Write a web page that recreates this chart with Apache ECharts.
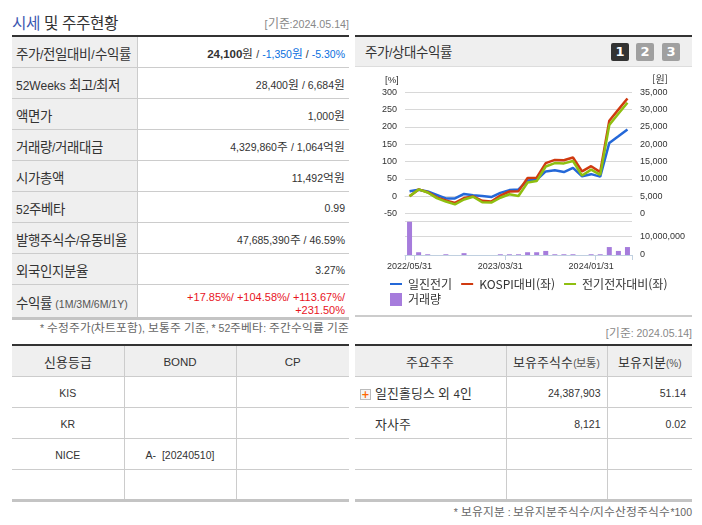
<!DOCTYPE html>
<html lang="ko"><head><meta charset="utf-8">
<script src="https://cdn.jsdelivr.net/npm/echarts@6/dist/echarts.min.js"></script>
<style>
@font-face{font-family:KR;src:local("Noto Sans CJK KR");unicode-range:U+AC00-D7A3,U+3131-318E;size-adjust:112%}
html,body{margin:0;padding:0;background:#fff;width:702px;height:525px;overflow:hidden}
body{font-family:KR,"Liberation Sans","Noto Sans CJK KR",sans-serif;font-size:10.5px;color:#333}
.a{position:absolute;white-space:nowrap}
table{position:absolute;border-collapse:collapse;table-layout:fixed;border-top:2px solid #333;border-bottom:3px solid #c4c4c4}
td,th{border-top:1px solid #ccc;padding:2px 0 0;font-weight:normal;height:30px;box-sizing:border-box;overflow:hidden;white-space:nowrap}
tr:first-child td,tr:first-child th{border-top:0}
.l{background:#efefef;border-right:1px solid #ccc;text-align:left;padding-left:4px;font-size:12px}
.c{text-align:center;border-right:1px solid #ccc}
.c:last-child{border-right:0}
.r{text-align:right;padding-right:4px}
.c.r{text-align:right;padding-right:6px}
.h{background:#efefef;font-size:11.5px}
.b{color:#0a6fe0}.u{color:#e8141e}
.btn{position:absolute;top:43px;width:18px;height:18px;border-radius:2px;background:#a0a0a0;color:#fff;font:bold 13px/18px "DejaVu Sans",sans-serif;text-align:center}
#chart{position:absolute;left:0;top:0;width:702px;height:525px}
</style></head><body>
<div class="a" style="left:12px;top:11px;font-size:14px"><span style="color:#3a56b0">시세</span> 및 주주현황</div>
<div class="a" style="right:353px;top:14px;color:#888;font-size:10.7px">[기준:2024.05.14]</div>
<table style="left:12px;top:35px;width:337px">
<colgroup><col style="width:125px"><col></colgroup>
<tr><td class="l" style="height:31px">주가/전일대비/수익률</td><td class="r"><b style="font-size:11.5px">24,100</b>원 / <span class="b">-1,350원</span> / <span class="b">-5.30%</span></td></tr>
<tr><td class="l" style="height:31px">52Weeks 최고/최저</td><td class="r">28,400원 / 6,684원</td></tr>
<tr><td class="l" style="height:31px">액면가</td><td class="r">1,000원</td></tr>
<tr><td class="l" style="height:31px">거래량/거래대금</td><td class="r">4,329,860주 / 1,064억원</td></tr>
<tr><td class="l" style="height:31px">시가총액</td><td class="r">11,492억원</td></tr>
<tr><td class="l" style="height:31px">52주베타</td><td class="r">0.99</td></tr>
<tr><td class="l" style="height:31px">발행주식수/유동비율</td><td class="r">47,685,390주 / 46.59%</td></tr>
<tr><td class="l" style="height:31px">외국인지분율</td><td class="r">3.27%</td></tr>
<tr><td class="l" style="height:31px">수익률 <span style="font-size:10.5px;color:#555">(1M/3M/6M/1Y)</span></td><td class="r u" style="white-space:normal;line-height:13px;font-size:11px;padding-top:6px">+17.85%/ +104.58%/ +113.67%/<br>+231.50%</td></tr>
</table>
<div class="a" style="right:353px;top:318px;color:#666">* 수정주가(차트포함), 보통주 기준, * 52주베타: 주간수익률 기준</div>
<table style="left:12px;top:344px;width:337px">
<colgroup><col style="width:112px"><col style="width:112px"><col></colgroup>
<tr><th class="c h" style="height:31px">신용등급</th><th class="c h" style="height:31px">BOND</th><th class="c h" style="height:31px">CP</th></tr>
<tr><td class="c" style="height:31px">KIS</td><td class="c"></td><td class="c"></td></tr>
<tr><td class="c" style="height:31px">KR</td><td class="c"></td><td class="c"></td></tr>
<tr><td class="c" style="height:31px">NICE</td><td class="c">A-&nbsp;&nbsp;[20240510]</td><td class="c"></td></tr>
<tr><td class="c" style="height:31px"></td><td class="c"></td><td class="c"></td></tr>
</table>

<div class="a" style="left:355px;top:35px;width:337px;height:32px;box-sizing:border-box;background:#efefef;border-top:2px solid #333;border-bottom:1px solid #ddd"></div>
<div class="a" style="left:365px;top:41px;font-size:12px">주가/상대수익률</div>
<div class="btn" style="left:611px;background:#333">1</div>
<div class="btn" style="left:636px">2</div>
<div class="btn" style="left:662px">3</div>
<div class="a" style="left:355px;top:315px;width:337px;height:2px;background:#ccc"></div>
<div class="a" style="right:10px;top:323px;color:#888">[기준: 2024.05.14]</div>
<table style="left:355px;top:344px;width:337px">
<colgroup><col style="width:151px"><col style="width:101px"><col></colgroup>
<tr><th class="c h" style="height:31px">주요주주</th><th class="c h">보유주식수<span style="font-size:10px;color:#555">(보통)</span></th><th class="c h">보유지분<span style="font-size:10px;color:#555">(%)</span></th></tr>
<tr><td class="c" style="height:31px;text-align:left;font-size:11.5px"><span style="display:inline-block;width:9px;height:9px;margin:0 4px 0 5px;border:1px solid #bbb;background:#f4f4f4;color:#f60;font:bold 10px/9px 'DejaVu Sans';text-align:center;vertical-align:middle">+</span>일진홀딩스 외 4인</td><td class="c r">24,387,903</td><td class="c r">51.14</td></tr>
<tr><td class="c" style="height:31px;text-align:left;padding-left:20px;font-size:11.5px">자사주</td><td class="c r">8,121</td><td class="c r">0.02</td></tr>
<tr><td class="c" style="height:31px"></td><td class="c"></td><td class="c"></td></tr>
<tr><td class="c" style="height:31px"></td><td class="c"></td><td class="c"></td></tr>
</table>
<div class="a" style="right:10px;top:502px;color:#666">* 보유지분 : 보유지분주식수/지수산정주식수*100</div>
<div id="chart"></div>
<script>
const dates = ['2022/05/31','2022/06/30','2022/07/31','2022/08/31','2022/09/30','2022/10/31','2022/11/30','2022/12/31','2023/01/31','2023/02/28','2023/03/31','2023/04/30','2023/05/31','2023/06/30','2023/07/31','2023/08/31','2023/09/30','2023/10/31','2023/11/30','2023/12/31','2024/01/31','2024/02/29','2024/03/31','2024/04/30','2024/05/31'];
const iljin = [15,19,14,4,-6,-6,7,3,1,-2,10,18,20,46,48,72,75,70,82,58,64,57,154,173,193];
const kospi = [0,20,12,-3,-12,-19,-5,0,-13,-15,2,14,15,53,54,96,105,104,112,72,87,70,218,250,282];
const elec = [0,20,11,-5,-15,-23,-9,-1,-17,-18,-4,6,1,40,44,86,96,95,102,60,77,62,206,238,270];
const volume = [18000000,1500000,400000,0,400000,0,1000000,0,0,0,400000,400000,400000,1500000,1500000,2200000,400000,400000,400000,0,400000,400000,4300000,2200000,4300000];
const names = ['일진전기','KOSPI대비(좌)','전기전자대비(좌)','거래량'];
const colors = ['#2468d8','#d03a10','#8fbf10','#a67cdc'];
const F = '"Liberation Sans",sans-serif';
const KF = '"Noto Sans CJK KR",sans-serif';
const labelStyle = {fontFamily:F,fontSize:9,color:'#333'};
const lineIcon = 'path://M0 0h.01v.01h-.01zM0 5.5H13V7.5H0zM0 13h.01v.01h-.01z';
const legendText = {fontFamily:KF,fontSize:12,color:'#333',padding:[0,0,0,1]};
const chart = echarts.init(document.getElementById('chart'));
const fmt = v => v.toString().replace(/\B(?=(\d{3})+$)/g,',');
chart.setOption({
 animation:false,
 graphic:[
  {type:'text',left:385,top:75,style:{text:'[%]',font:'9.5px '+F,fill:'#333'}},
  {type:'text',left:652,top:74,style:{text:'[원]',font:'10px '+KF,fill:'#333'}}
 ],
 legend:[
  {left:390,top:278,width:300,itemWidth:12,itemHeight:13,itemGap:9,padding:0,textStyle:legendText,
   data:[{name:names[0],icon:lineIcon},{name:names[1],icon:lineIcon},{name:names[2],icon:lineIcon}]},
  {left:390,top:293,itemWidth:12,itemHeight:13,padding:0,textStyle:legendText,
   data:[{name:names[3],icon:'rect'}]}
 ],
 grid:[{left:405,right:70,top:92.3,height:121.4},{left:405,right:70,top:221,height:34}],
 xAxis:[
  {type:'category',gridIndex:0,data:dates,offset:2.3,axisLine:{show:true,lineStyle:{color:'#d8d8d8'}},axisTick:{show:false},axisLabel:{show:false},splitLine:{show:false}},
  {type:'category',gridIndex:1,data:dates,axisLine:{show:true,lineStyle:{color:'#c0d0e0'}},
   axisTick:{show:true,length:5,lineStyle:{color:'#c0d0e0'},interval:i=>i===0||i%10===1},
   axisLabel:{interval:9,margin:7,hideOverlap:false,...labelStyle},splitLine:{show:false}}
 ],
 yAxis:[
  {type:'value',gridIndex:0,min:-50,max:300,interval:50,axisLine:{show:false},axisTick:{show:false},axisLabel:{margin:8,...labelStyle},splitLine:{lineStyle:{color:'#d8d8d8',width:1}}},
  {type:'value',gridIndex:0,position:'right',min:0,max:35000,interval:5000,axisLine:{show:false},axisTick:{show:false},axisLabel:{margin:8,formatter:fmt,...labelStyle},splitLine:{show:false}},
  {type:'value',gridIndex:1,position:'right',min:0,max:18400000,interval:10000000,axisLine:{show:false},axisTick:{show:false},
   axisLabel:{margin:8,showMaxLabel:false,formatter:fmt,...labelStyle},splitLine:{lineStyle:{color:'#d8d8d8',width:1}}}
 ],
 series:[
  {name:names[0],type:'line',xAxisIndex:0,yAxisIndex:0,data:iljin,symbol:'none',lineStyle:{width:2.5,color:colors[0]},itemStyle:{color:colors[0]}},
  {name:names[1],type:'line',xAxisIndex:0,yAxisIndex:0,data:kospi,symbol:'none',lineStyle:{width:2.5,color:colors[1]},itemStyle:{color:colors[1]}},
  {name:names[2],type:'line',xAxisIndex:0,yAxisIndex:0,data:elec,symbol:'none',lineStyle:{width:2.5,color:colors[2]},itemStyle:{color:colors[2]}},
  {name:names[3],type:'bar',xAxisIndex:1,yAxisIndex:2,data:volume,barWidth:5,itemStyle:{color:colors[3]}}
 ]
});
</script>
</body></html>
